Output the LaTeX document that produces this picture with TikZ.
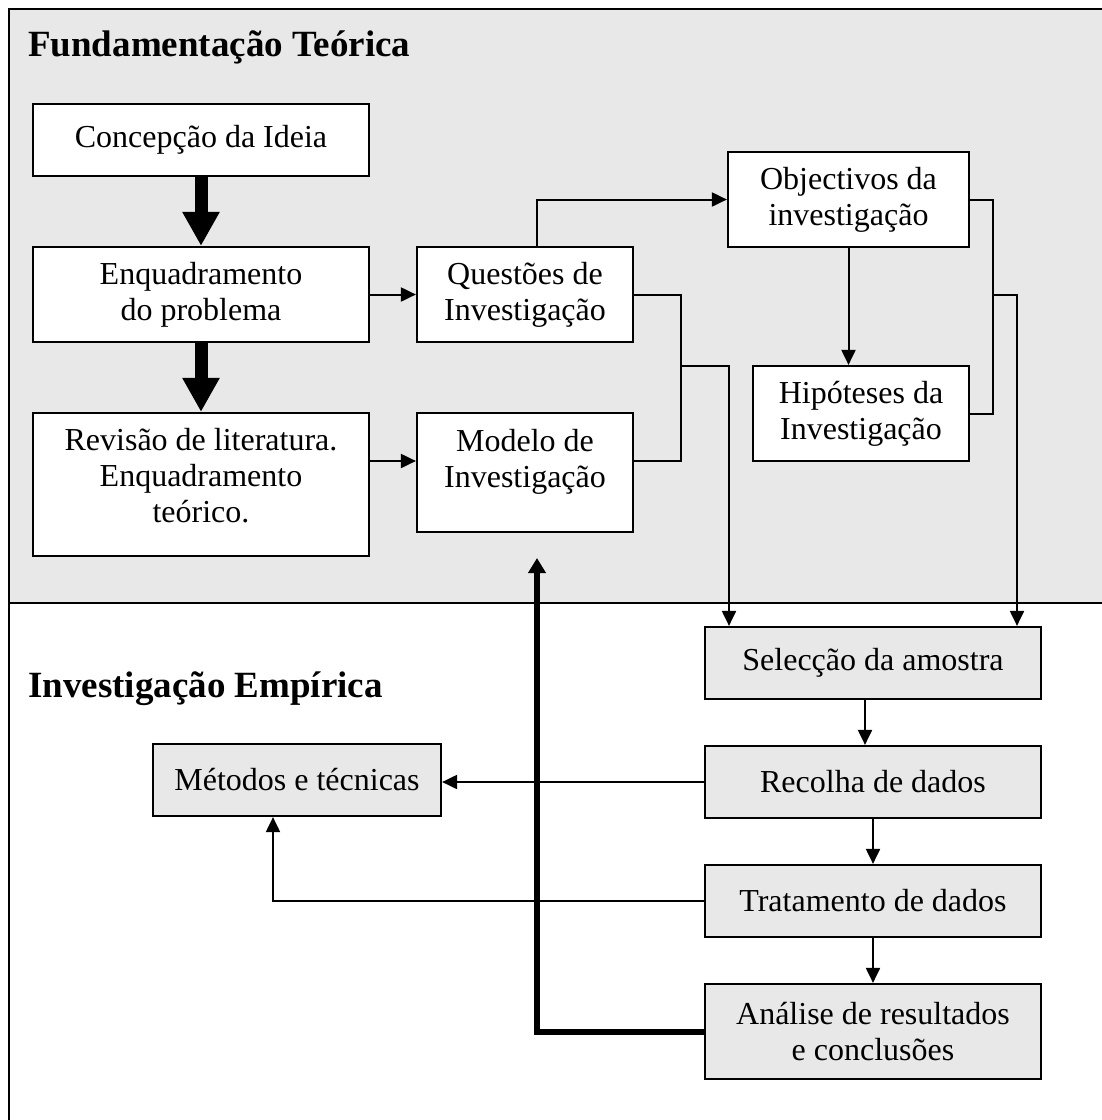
\documentclass[tikz,border=0pt]{standalone}
\usepackage{fontspec}
\setmainfont{Liberation Serif}
\usetikzlibrary{arrows.meta}
\definecolor{bg}{HTML}{E8E8E8}
\begin{document}
\begin{tikzpicture}[x=1pt,y=-1pt,
  box/.style={draw, line width=2.2pt, fill=white, align=center, inner sep=0pt,
              font=\fontsize{32}{36}\selectfont},
  gbox/.style={box, fill=bg},
  thin/.style={line width=2pt, -{Triangle[length=15pt,width=14pt]}},
  plain/.style={line width=2pt},
  big/.style={line width=13pt, -{Triangle[length=34pt,width=35pt]}},
  back/.style={line width=6pt, -{Triangle[length=15pt,width=17pt]}},
  frame/.style={line width=2.5pt},
  ttl/.style={anchor=base west, inner sep=0pt, font=\bfseries\fontsize{37}{40}\selectfont}]
\useasboundingbox (0,0) rectangle (1102,1120);
% background regions
\fill[bg] (9,9) rectangle (1115,603);
\draw[frame] (9,1130) -- (9,9) -- (1115,9);
\draw[frame] (9,603) -- (1115,603);
% titles
\node[ttl] (t1) at (28,56) {Fundamentação Teórica};
\node[ttl] (t2) at (28,697) {Investigação Empírica};
% upper boxes
\node[box, minimum width=336pt, minimum height=72pt]  (conc) at (201,140)   {Concepção da Ideia};
\node[box, minimum width=336pt, minimum height=95pt]  (enq)  at (201,294.5) {Enquadramento\\do problema};
\node[box, minimum width=336pt, minimum height=143pt, text depth=18pt] (rev)  at (201,484.5) {Revisão de literatura.\\Enquadramento\\teórico.};
\node[box, minimum width=216pt, minimum height=95pt]  (ques) at (525,294.5) {Questões de\\Investigação};
\node[box, minimum width=216pt, minimum height=119pt, text depth=28pt] (mod)  at (525,472.5) {Modelo de\\Investigação};
\node[box, minimum width=241pt, minimum height=95pt]  (obj)  at (848.5,199.5) {Objectivos da\\investigação};
\node[box, minimum width=216pt, minimum height=95pt]  (hyp)  at (861,413.5) {Hipóteses da\\Investigação};
% lower boxes
\node[gbox, minimum width=336pt, minimum height=72pt] (sel)  at (873,663)  {Selecção da amostra};
\node[gbox, minimum width=336pt, minimum height=72pt] (rec)  at (873,782)  {Recolha de dados};
\node[gbox, minimum width=336pt, minimum height=72pt] (trat) at (873,901)  {Tratamento de dados};
\node[gbox, minimum width=336pt, minimum height=95pt] (anal) at (873,1031.5) {Análise de resultados\\e conclusões};
\node[gbox, minimum width=288pt, minimum height=72pt] (met)  at (297,780)  {Métodos e técnicas};
% helper coordinates
\coordinate (rm)  at (400,461);
\coordinate (lx1) at (681,461);
\coordinate (lj)  at (681,366);
\coordinate (lj2) at (729,366);
\coordinate (rx)  at (993,413.5);
\coordinate (rj)  at (993,294.5);
\coordinate (rj2) at (1017,294.5);
\coordinate (bt)  at (537,558);
% thick arrows
\draw[big] (conc.south) -- (enq.north);
\draw[big] (enq.south) -- (rev.north);
% thin connectors, upper part
\draw[thin] (enq.east) -- (ques.west);
\draw[thin] (rm -| rev.east) -- (rm -| mod.west);
\draw[thin] ([xshift=12pt]ques.north) |- (obj.west);
\draw[thin] (obj.south) -- (obj.south |- hyp.north);
\draw[plain] (ques.east) -| (lx1) -- (lx1 -| mod.east);
\draw[thin] (lj) -- (lj2) -- (lj2 |- sel.north);
\draw[plain] (obj.east) -| (rx) -- (hyp.east);
\draw[thin] (rj) -- (rj2) -- (rj2 |- sel.north);
% lower part
\draw[thin] ([xshift=-8pt]sel.south) -- ([xshift=-8pt]rec.north);
\draw[thin] (rec.south) -- (trat.north);
\draw[thin] (trat.south) -- (anal.north);
\draw[thin] (rec.west) -- (rec.west -| met.east);
\draw[thin] (trat.west) -| ([xshift=-24pt]met.south);
\draw[back] (anal.west) -| (bt);
\end{tikzpicture}
\end{document}
